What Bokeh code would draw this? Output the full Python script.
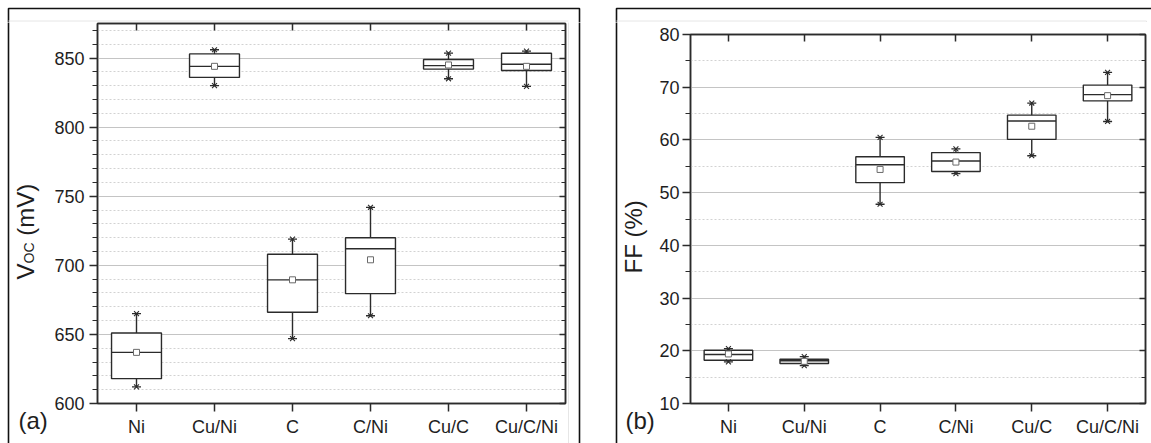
import math
from bokeh.plotting import figure
from bokeh.layouts import row, column
from bokeh.models import (FactorRange, Range1d, LinearAxis, CategoricalAxis,
                          SingleIntervalTicker, ColumnDataSource)
from bokeh.core.properties import value
from bokeh.transform import dodge
from bokeh.embed import file_html
from bokeh.resources import INLINE

# Electrode stacks
cats = ["Ni", "Cu/Ni", "C", "C/Ni", "Cu/C", "Cu/C/Ni"]

# Open-circuit voltage (mV): whisker ends, quartiles, median, mean
voc_max = [665, 856, 719, 742, 853.5, 855]
voc_q3 = [651, 853, 708, 720, 849, 853.5]
voc_med = [637, 844, 689.5, 712, 844.5, 845.5]
voc_mean = [637, 844, 689.5, 704, 845, 844]
voc_q1 = [618, 836, 666, 679.5, 842, 841]
voc_min = [612, 830, 647, 663.5, 835, 829.5]

# Fill factor (%)
ff_max = [20.4, 18.9, 60.5, 58.3, 67.0, 72.8]
ff_q3 = [20.1, 18.4, 56.8, 57.6, 64.7, 70.4]
ff_med = [19.3, 18.1, 55.3, 56.0, 63.6, 68.6]
ff_mean = [19.4, 18.0, 54.4, 55.8, 62.6, 68.4]
ff_q1 = [18.2, 17.6, 51.9, 54.0, 60.1, 67.4]
ff_min = [17.9, 17.2, 47.8, 53.6, 57.0, 63.5]

FONT = "Liberation Sans"
INK = "#2b2b2b"
TXT = "#1e1e1e"
FRAME = "#111111"
FAINT = "#e6e6e6"
BOX_W = 0.64
H = 443          # page height
TOP = 22         # height of the strip above each chart


def strip(x0, x1, y0, y1):
    """Blank canvas in page pixels (y counted up from the page bottom)."""
    s = figure(width=x1 - x0, height=y1 - y0, x_range=Range1d(x0, x1),
               y_range=Range1d(y0, y1), x_axis_type=None, y_axis_type=None,
               output_backend="svg", toolbar_location=None, min_border=0,
               min_border_left=0, min_border_right=0, min_border_top=0,
               min_border_bottom=0, frame_align=False)
    s.outline_line_color = None
    s.background_fill_color = "white"
    s.border_fill_color = "white"
    return s


def boxplot(width, y0, y1, major, minor_n, lo, q1, med, mean, q3, hi,
            borders, standoff):
    p = figure(x_range=FactorRange(*cats), y_range=Range1d(y0, y1),
               width=width, height=H - TOP, output_backend="svg",
               toolbar_location=None, frame_align=False,
               min_border_left=borders[0], min_border_right=borders[1],
               min_border_top=borders[2], min_border_bottom=borders[3])
    p.background_fill_color = "white"
    p.border_fill_color = "white"
    p.outline_line_color = INK
    p.outline_line_width = 1.5

    tick = SingleIntervalTicker(interval=major, num_minor_ticks=minor_n)
    p.yaxis.ticker = tick
    for ax in (p.xaxis[0], p.yaxis[0]):
        ax.axis_line_color = INK
        ax.axis_line_width = 1.5
        ax.major_tick_line_color = INK
        ax.major_tick_line_width = 1.5
        ax.minor_tick_line_color = INK
        ax.minor_tick_line_width = 1.2
        ax.major_tick_in = 0
        ax.major_tick_out = 8
        ax.minor_tick_in = 0
        ax.minor_tick_out = 5
        ax.major_label_text_font = FONT
        ax.major_label_text_font_size = "18px"
        ax.major_label_text_color = TXT
    p.yaxis.major_label_standoff = standoff
    p.xaxis.major_label_standoff = 5

    # mirrored ticks on the right and top edges
    right = LinearAxis(ticker=tick, major_tick_in=6, major_tick_out=0,
                       minor_tick_in=4, minor_tick_out=0,
                       major_label_text_font_size="0px",
                       major_label_text_alpha=0, major_label_standoff=0,
                       axis_line_color=INK, axis_line_width=1.5,
                       major_tick_line_color=INK, major_tick_line_width=1.5,
                       minor_tick_line_color=INK, minor_tick_line_width=1.2)
    p.add_layout(right, "right")
    top = CategoricalAxis(major_tick_in=7, major_tick_out=0,
                          major_label_text_font_size="0px",
                          major_label_text_alpha=0, major_label_standoff=0,
                          axis_line_color=INK, axis_line_width=1.5,
                          major_tick_line_color=INK, major_tick_line_width=1.5)
    p.add_layout(top, "above")

    p.xgrid.visible = False
    p.ygrid.grid_line_color = "#c4c4c4"
    p.ygrid.grid_line_width = 1.2
    p.ygrid.minor_grid_line_color = "#d2d2d2"
    p.ygrid.minor_grid_line_dash = "2 2"
    p.ygrid.minor_grid_line_width = 1

    src = ColumnDataSource(dict(cat=cats, lo=lo, q1=q1, med=med, mean=mean,
                                q3=q3, hi=hi))
    # whiskers
    p.segment(x0="cat", x1="cat", y0="q3", y1="hi", source=src,
              line_color=INK, line_width=1.4)
    p.segment(x0="cat", x1="cat", y0="q1", y1="lo", source=src,
              line_color=INK, line_width=1.4)
    # boxes
    p.vbar(x="cat", bottom="q1", top="q3", width=BOX_W, source=src,
           fill_color="white", line_color=INK, line_width=1.4)
    # medians
    p.segment(x0=dodge("cat", -BOX_W / 2, range=p.x_range),
              x1=dodge("cat", BOX_W / 2, range=p.x_range),
              y0="med", y1="med", source=src, line_color=INK, line_width=1.4)
    # whisker end markers
    for col in ("hi", "lo"):
        p.scatter(x="cat", y=col, source=src, marker="dash", size=9,
                  line_color=INK, line_width=1.3)
        p.scatter(x="cat", y=col, source=src, marker="x", size=7,
                  line_color=INK, line_width=1.1)
    # means
    p.scatter(x="cat", y="mean", source=src, marker="square", size=6,
              fill_color="white", line_color="#6a6a6a", line_width=1)
    return p


def vtext(s, x, y, text, size):
    s.text(x=[x], y=[y], text=[text], angle=math.pi / 2,
           text_align="left", text_baseline="alphabetic",
           text_font=value(FONT), text_font_size=value(size),
           text_color=TXT)


def htext(s, x, y, text, size):
    s.text(x=[x], y=[y], text=[text], text_align="left",
           text_baseline="alphabetic", text_font=value(FONT),
           text_font_size=value(size), text_color=TXT)


# ---------- panel (a): open-circuit voltage ----------
topA = strip(0, 598, H - TOP, H)
topA.line(x=[8, 8, 579, 579], y=[400, 435, 435, 400],
          line_color=FRAME, line_width=1.6)
topA.line(x=[8, 568], y=[422.5, 422.5], line_color=FAINT, line_width=1)

leftA = strip(0, 51, 0, H - TOP)
leftA.line(x=[8, 8], y=[-10, 430], line_color=FRAME, line_width=1.6)
vtext(leftA, 25, 164, "V", "24px")
vtext(leftA, 28, 180, "OC", "14px")
vtext(leftA, 25, 207.7, "(mV)", "24px")
htext(leftA, 18, 23.5, "(a)", "24px")

mainA = boxplot(516, 600, 875, 50, 5, voc_min, voc_q1, voc_med, voc_mean,
                voc_q3, voc_max, borders=(44, 2, 1, 40), standoff=5)

rightA = strip(567, 598, 0, H - TOP)
rightA.line(x=[568, 568], y=[-10, 430], line_color=FAINT, line_width=1)
rightA.line(x=[579, 579], y=[-10, 430], line_color=FRAME, line_width=1.6)

panelA = column(topA, row(leftA, mainA, rightA, spacing=0), spacing=0)

# ---------- panel (b): fill factor ----------
topB = strip(598, 1151, H - TOP, H)
topB.line(x=[616, 616, 1170], y=[400, 435, 435],
          line_color=FRAME, line_width=1.6)
topB.line(x=[616, 1146, 1146], y=[422.5, 422.5, 400],
          line_color=FAINT, line_width=1)

leftB = strip(598, 656, 0, H - TOP)
leftB.line(x=[616, 616], y=[-10, 430], line_color=FRAME, line_width=1.6)
vtext(leftB, 633, 170, "FF (%)", "24px")
htext(leftB, 625, 23.5, "(b)", "24px")

mainB = boxplot(495, 10, 80, 10, 2, ff_min, ff_q1, ff_med, ff_mean,
                ff_q3, ff_max, borders=(31, 6, 12, 40), standoff=3)

panelB = column(topB, row(leftB, mainB, spacing=0), spacing=0)

layout = row(panelA, panelB, spacing=0)
open("out.html", "w").write(file_html(layout, INLINE))
